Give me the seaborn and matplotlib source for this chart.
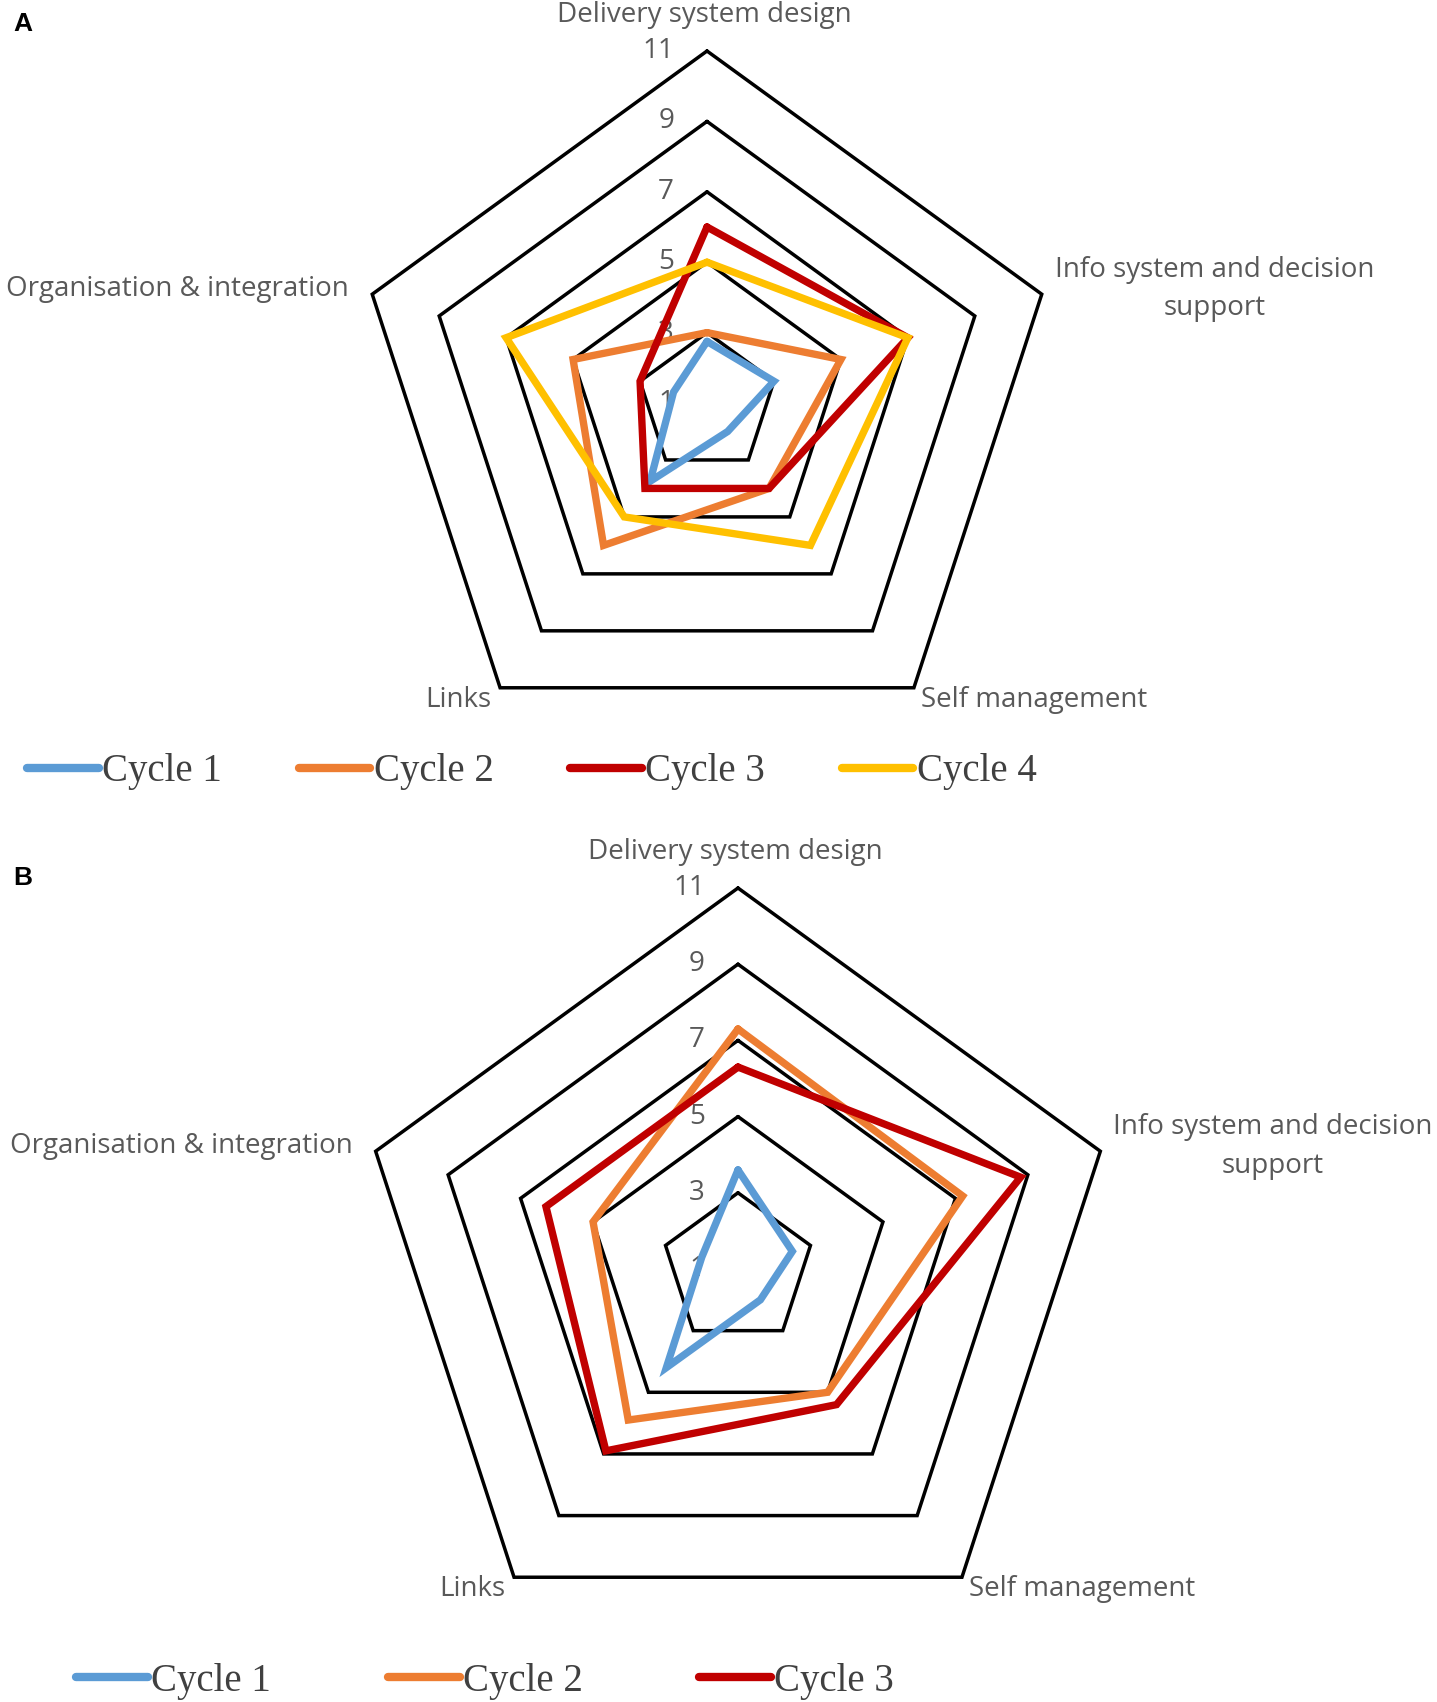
"""
Two Excel-style radar charts (panel A: 4 cycles, panel B: 3 cycles).
Saves out.png at 1437x1702.
"""

import numpy as np
import pandas as pd
import matplotlib
matplotlib.use('Agg')
import matplotlib.pyplot as plt
from matplotlib.lines import Line2D
import seaborn as sns

# ---- data ----
categories = ['Delivery system design', 'Info system and decision\nsupport',
              'Self management', 'Links', 'Organisation & integration']
tick_values = [1, 3, 5, 7, 9, 11]

cycle_names = ['Cycle 1', 'Cycle 2', 'Cycle 3', 'Cycle 4']
cycle_colors = ['#5B9BD5', '#ED7D31', '#C00000', '#FFC000']

# panel A (order follows categories, clockwise from top)
a_cycle1 = [2.75, 3.0, 2.0, 3.75, 2.0]
a_cycle2 = [3.0, 5.0, 4.0, 6.0, 5.0]
a_cycle3 = [6.0, 7.0, 4.0, 4.0, 3.0]
a_cycle4 = [5.0, 7.0, 6.0, 5.0, 7.0]

# panel B
b_cycle1 = [3.6, 2.5, 2.0, 4.2, 2.0]
b_cycle2 = [7.3, 7.2, 5.0, 5.9, 5.0]
b_cycle3 = [6.3, 8.8, 5.4, 6.9, 6.3]

W, H = 1437, 1702
TEXT_GREY = '#595959'

sns.set_theme(style='white')
plt.rcParams['font.family'] = ['Open Sans', 'DejaVu Sans']


def radar_frame(series, names):
    """长表：每个 cycle 一条闭合折线"""
    n = len(categories)
    angles = np.arange(n + 1) * 2 * np.pi / n
    rows = []
    for name, vals in zip(names, series):
        closed = list(vals) + [vals[0]]
        for th, v in zip(angles, closed):
            rows.append({'cycle': name, 'theta': th, 'r': v})
    return pd.DataFrame(rows)


def draw_radar(ax, series, names):
    n = len(categories)
    angles = np.arange(n + 1) * 2 * np.pi / n

    ax.set_theta_offset(np.pi / 2)
    ax.set_theta_direction(-1)
    ax.set_ylim(tick_values[0], tick_values[-1])
    ax.grid(False)
    ax.set_xticks([])
    ax.set_yticks([])
    ax.spines['polar'].set_visible(False)
    ax.set_facecolor('none')

    # pentagon grid
    for t in tick_values[1:]:
        ax.plot(angles, [t] * (n + 1), color='black', lw=2.5,
                solid_joinstyle='miter', clip_on=False, zorder=2)

    # value labels left of the top axis
    for t in tick_values:
        ax.annotate(str(t), xy=(0, t), xytext=(-33, 0), textcoords='offset pixels',
                    ha='right', va='center', fontsize=20, color=TEXT_GREY,
                    annotation_clip=False, zorder=1.5)

    # category labels
    offsets = [((-3, 36), 'center', 'center'),
               ((13, 5), 'left', 'center'),
               ((7, -12), 'left', 'center'),
               ((-9, -12), 'right', 'center'),
               ((-23, 5), 'right', 'center')]
    for th, label, (off, ha, va) in zip(angles[:-1], categories, offsets):
        ax.annotate(label, xy=(th, tick_values[-1]), xytext=off,
                    textcoords='offset pixels', ha=ha, va=va,
                    multialignment='center', fontsize=20, color=TEXT_GREY,
                    annotation_clip=False, linespacing=1.5)

    df = radar_frame(series, names)
    palette = dict(zip(cycle_names, cycle_colors))
    sns.lineplot(data=df, x='theta', y='r', hue='cycle', palette=palette,
                 sort=False, estimator=None, linewidth=5.3, legend=False,
                 ax=ax, clip_on=False, solid_joinstyle='miter', zorder=3)
    ax.set_xlabel('')
    ax.set_ylabel('')


def add_legend(fig, names, x_px, y_px, colspace):
    handles = [Line2D([], [], color=c, lw=6, solid_capstyle='round')
               for c in cycle_colors[:len(names)]]
    fig.legend(handles, names, loc='center left',
               bbox_to_anchor=(x_px / W, 1 - y_px / H), ncol=len(names),
               frameon=False, borderpad=0, borderaxespad=0,
               handlelength=1.85, handletextpad=0.08, columnspacing=colspace,
               prop={'family': ['Liberation Serif', 'DejaVu Serif'], 'size': 28},
               labelcolor='#404040')


def axes_rect(cx, cy, r):
    """像素中心/半径 -> figure 坐标"""
    return [(cx - r) / W, 1 - (cy + r) / H, 2 * r / W, 2 * r / H]


fig = plt.figure(figsize=(W / 100, H / 100), dpi=100)

ax_a = fig.add_axes(axes_rect(707, 403, 352), projection='polar')
draw_radar(ax_a, [a_cycle1, a_cycle2, a_cycle3, a_cycle4], cycle_names)

ax_b = fig.add_axes(axes_rect(738, 1269, 381), projection='polar')
draw_radar(ax_b, [b_cycle1, b_cycle2, b_cycle3], cycle_names[:3])

add_legend(fig, cycle_names, 27, 772, 1.97)
add_legend(fig, cycle_names[:3], 76, 1681, 3.0)

font_bold = {'family': ['Liberation Sans', 'DejaVu Sans'], 'weight': 'bold', 'size': 19}
fig.text(13 / W, 1 - 12 / H, 'A', ha='left', va='top', color='black', **font_bold)
fig.text(13 / W, 1 - 866 / H, 'B', ha='left', va='top', color='black', **font_bold)

fig.savefig('out.png', dpi=100)
plt.close(fig)
